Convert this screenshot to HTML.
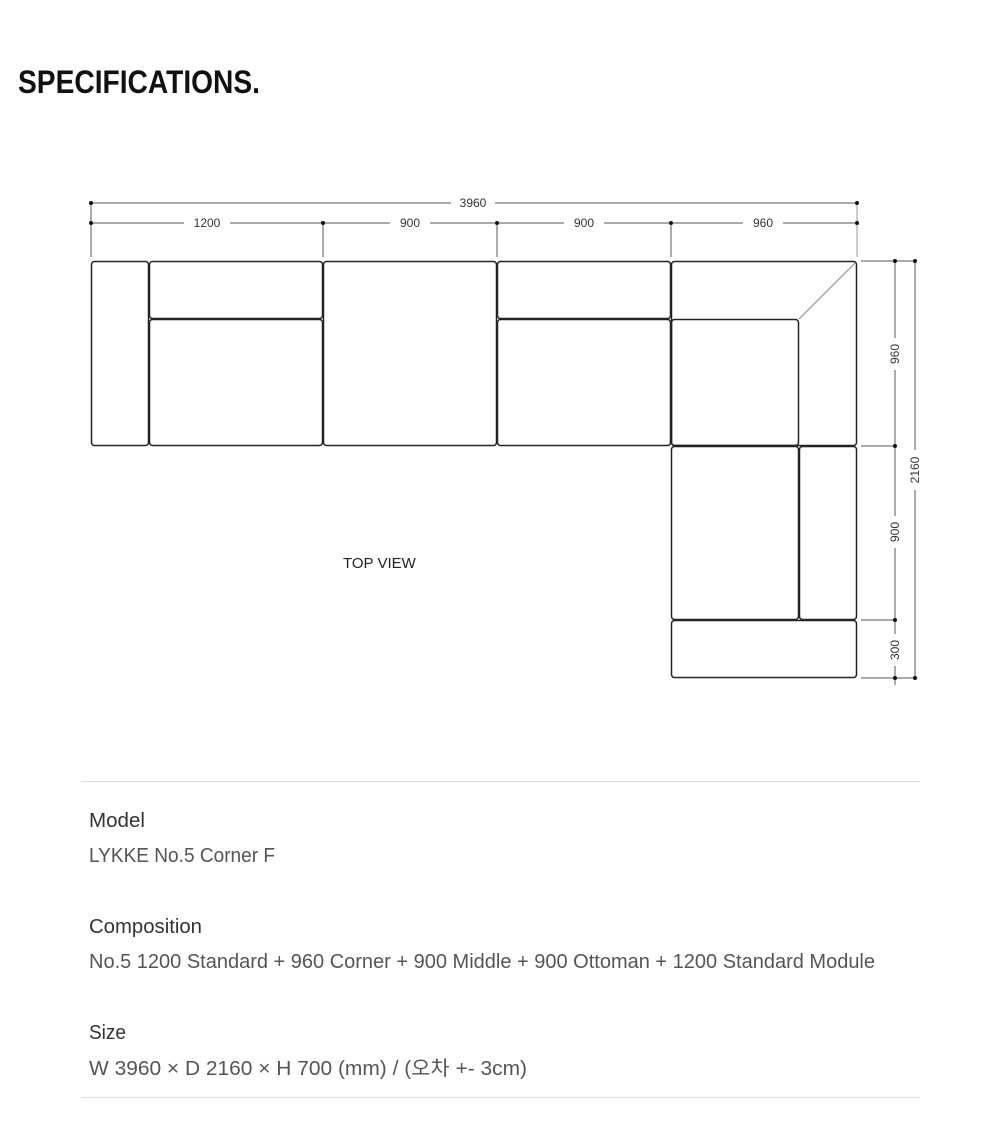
<!DOCTYPE html>
<html><head><meta charset="utf-8"><style>
html,body{margin:0;padding:0;background:#fff;}
svg{display:block;}
</style></head><body>
<svg width="1000" height="1148" viewBox="0 0 1000 1148" xmlns="http://www.w3.org/2000/svg" font-family="'Liberation Sans','Noto Sans CJK KR',sans-serif">
<rect width="1000" height="1148" fill="#fff"/>
<text x="18" y="93" font-size="32" font-weight="bold" fill="#111" textLength="242" lengthAdjust="spacingAndGlyphs">SPECIFICATIONS.</text>

<!-- dimension lines top -->
<g stroke="#555" stroke-width="1" fill="none">
<line x1="91" y1="203" x2="451" y2="203"/><line x1="495" y1="203" x2="857" y2="203"/>
<line x1="91" y1="223" x2="184" y2="223"/><line x1="230" y1="223" x2="323" y2="223"/>
<line x1="323" y1="223" x2="390" y2="223"/><line x1="430" y1="223" x2="497" y2="223"/>
<line x1="497" y1="223" x2="564" y2="223"/><line x1="604" y1="223" x2="671" y2="223"/>
<line x1="671" y1="223" x2="743" y2="223"/><line x1="783" y1="223" x2="857" y2="223"/>
<line x1="91" y1="203" x2="91" y2="257"/>
<line x1="323" y1="223" x2="323" y2="257"/>
<line x1="497" y1="223" x2="497" y2="257"/>
<line x1="671" y1="223" x2="671" y2="257"/>
<line x1="857" y1="203" x2="857" y2="257" stroke="#999"/>
<!-- right -->
<line x1="861" y1="261" x2="915" y2="261"/>
<line x1="861" y1="446" x2="895" y2="446"/>
<line x1="861" y1="620" x2="895" y2="620"/>
<line x1="861" y1="678" x2="915" y2="678"/>
<line x1="895" y1="261" x2="895" y2="338"/><line x1="895" y1="370" x2="895" y2="446"/>
<line x1="895" y1="446" x2="895" y2="516"/><line x1="895" y1="548" x2="895" y2="620"/>
<line x1="895" y1="620" x2="895" y2="634"/><line x1="895" y1="666" x2="895" y2="685"/>
<line x1="915" y1="261" x2="915" y2="450"/><line x1="915" y1="490" x2="915" y2="678"/>
</g>
<g fill="#111">
<circle cx="91" cy="203" r="2"/><circle cx="857" cy="203" r="2"/>
<circle cx="91" cy="223" r="2"/><circle cx="323" cy="223" r="2"/><circle cx="497" cy="223" r="2"/><circle cx="671" cy="223" r="2"/><circle cx="857" cy="223" r="2"/>
<circle cx="895" cy="261" r="2"/><circle cx="915" cy="261" r="2"/>
<circle cx="895" cy="446" r="2"/><circle cx="895" cy="620" r="2"/>
<circle cx="895" cy="678" r="2"/><circle cx="915" cy="678" r="2"/>
</g>
<g font-size="12" fill="#333" text-anchor="middle">
<text x="473" y="207">3960</text>
<text x="207" y="227">1200</text>
<text x="410" y="227">900</text>
<text x="584" y="227">900</text>
<text x="763" y="227">960</text>
<text transform="translate(899,354) rotate(-90)">960</text>
<text transform="translate(899,532) rotate(-90)">900</text>
<text transform="translate(899,650) rotate(-90)">300</text>
<text transform="translate(919,470) rotate(-90)">2160</text>
</g>

<!-- sofa -->
<g fill="none" stroke="#222" stroke-width="1.5">
<rect x="91.5" y="261.5" width="57" height="184" rx="3"/>
<rect x="149.5" y="261.5" width="173" height="57" rx="3"/>
<rect x="149.5" y="319.5" width="173" height="126" rx="3"/>
<rect x="323.5" y="261.5" width="173" height="184" rx="3"/>
<rect x="497.5" y="261.5" width="173" height="57" rx="3"/>
<rect x="497.5" y="319.5" width="173" height="126" rx="3"/>
<rect x="671.5" y="261.5" width="185" height="184" rx="3"/>
<rect x="671.5" y="319.5" width="127" height="126" rx="3"/>
<rect x="671.5" y="446.5" width="127" height="173" rx="3"/>
<rect x="799.5" y="446.5" width="57" height="173" rx="3"/>
<rect x="671.5" y="620.5" width="185" height="57" rx="3"/>
</g>
<line x1="799" y1="319" x2="855" y2="263" stroke="#888" stroke-width="1"/>

<text x="343" y="568" font-size="15" fill="#222">TOP VIEW</text>

<line x1="81" y1="781.5" x2="920" y2="781.5" stroke="#ddd" stroke-width="1"/>
<line x1="81" y1="1097.5" x2="920" y2="1097.5" stroke="#ddd" stroke-width="1"/>

<g font-size="20">
<text x="89" y="827" fill="#333" textLength="56" lengthAdjust="spacingAndGlyphs">Model</text>
<text x="89" y="862" fill="#555" textLength="186" lengthAdjust="spacingAndGlyphs">LYKKE No.5 Corner F</text>
<text x="89" y="933" fill="#333" textLength="113" lengthAdjust="spacingAndGlyphs">Composition</text>
<text x="89" y="968" fill="#555" textLength="786" lengthAdjust="spacingAndGlyphs">No.5 1200 Standard + 960 Corner + 900 Middle + 900 Ottoman + 1200 Standard Module</text>
<text x="89" y="1039" fill="#333" textLength="37" lengthAdjust="spacingAndGlyphs">Size</text>
<text x="89" y="1075" fill="#555" textLength="438" lengthAdjust="spacingAndGlyphs">W 3960 × D 2160 × H 700 (mm) / (오차 +- 3cm)</text>
</g>
</svg>
</body></html>
